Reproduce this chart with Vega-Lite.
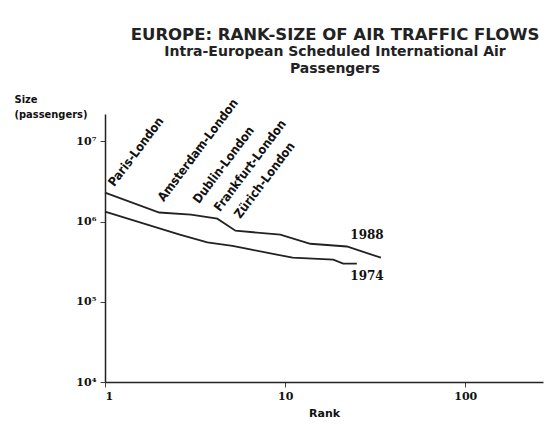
{
  "$schema": "https://vega.github.io/schema/vega-lite/v6.json",
  "width": 438,
  "height": 268,
  "autosize": {"type": "none"},
  "padding": {"left": 105, "top": 114, "right": 1, "bottom": 45},
  "background": "white",
  "title": {
    "text": "EUROPE: RANK-SIZE OF AIR TRAFFIC FLOWS",
    "subtitle": ["Intra-European Scheduled International Air", "Passengers"],
    "anchor": "middle",
    "dx": 11,
    "offset": 17,
    "font": "DejaVu Sans",
    "fontSize": 16.5,
    "fontWeight": "bold",
    "color": "#222",
    "subtitleFont": "DejaVu Sans",
    "subtitleFontSize": 14,
    "subtitleFontWeight": "bold",
    "subtitleColor": "#222",
    "subtitlePadding": 2,
    "subtitleLineHeight": 17
  },
  "config": {"view": {"stroke": null}},
  "datasets": {
    "lines": [
      {"year": "1988", "rank": 1, "size": 2300000},
      {"year": "1988", "rank": 2, "size": 1300000},
      {"year": "1988", "rank": 3, "size": 1220000},
      {"year": "1988", "rank": 4.2, "size": 1090000},
      {"year": "1988", "rank": 5.3, "size": 770000},
      {"year": "1988", "rank": 9.4, "size": 690000},
      {"year": "1988", "rank": 13.8, "size": 530000},
      {"year": "1988", "rank": 22, "size": 490000},
      {"year": "1988", "rank": 34, "size": 355000},
      {"year": "1974", "rank": 1, "size": 1330000},
      {"year": "1974", "rank": 2.6, "size": 690000},
      {"year": "1974", "rank": 3.7, "size": 550000},
      {"year": "1974", "rank": 5.1, "size": 500000},
      {"year": "1974", "rank": 6.4, "size": 450000},
      {"year": "1974", "rank": 11, "size": 355000},
      {"year": "1974", "rank": 18.5, "size": 335000},
      {"year": "1974", "rank": 21, "size": 300000},
      {"year": "1974", "rank": 25, "size": 300000}
    ],
    "routes": [
      {"label": "Paris-London", "rank": 1.1, "size": 2500000},
      {"label": "Amsterdam-London", "rank": 2.07, "size": 1630000},
      {"label": "Dublin-London", "rank": 3.25, "size": 1540000},
      {"label": "Frankfurt-London", "rank": 4.25, "size": 1220000},
      {"label": "Zürich-London", "rank": 5.5, "size": 1000000}
    ],
    "years": [
      {"label": "1988", "rank": 23, "size": 550000},
      {"label": "1974", "rank": 23, "size": 173000}
    ]
  },
  "layer": [
    {
      "data": {"name": "lines"},
      "mark": {"type": "line", "color": "#222", "strokeWidth": 1.8},
      "encoding": {
        "x": {
          "field": "rank", "type": "quantitative",
          "scale": {"type": "log", "domain": [1, 270], "nice": false},
          "axis": {
            "values": [1, 10, 100],
            "grid": false,
            "title": "Rank",
            "titleFont": "DejaVu Sans",
            "titleFontSize": 11,
            "titleFontWeight": "bold",
            "titleColor": "#111",
            "titlePadding": 6,
            "labelFont": "DejaVu Serif",
            "labelFontSize": 11,
            "labelFontWeight": "bold",
            "labelColor": "#111",
            "labelPadding": 3,
            "domainColor": "#222",
            "domainWidth": 1.5,
            "tickColor": "#444",
            "tickSize": 5
          }
        },
        "y": {
          "field": "size", "type": "quantitative",
          "scale": {"type": "log", "domain": [10000, 22000000], "nice": false},
          "axis": {
            "values": [10000, 100000, 1000000, 10000000],
            "labelExpr": "datum.value == 10000 ? '10⁴' : datum.value == 100000 ? '10⁵' : datum.value == 1000000 ? '10⁶' : '10⁷'",
            "grid": false,
            "title": ["Size", "(passengers)"],
            "titleAngle": 0,
            "titleAlign": "left",
            "titleBaseline": "bottom",
            "titleX": -91,
            "titleY": -10,
            "titleFont": "DejaVu Sans Condensed",
            "titleFontSize": 11,
            "titleFontWeight": "bold",
            "titleColor": "#111",
            "titleLineHeight": 15,
            "labelFont": "DejaVu Serif",
            "labelFontSize": 11,
            "labelFontWeight": "bold",
            "labelColor": "#111",
            "labelPadding": 4,
            "domainColor": "#222",
            "domainWidth": 1.5,
            "tickColor": "#444",
            "tickSize": 5
          }
        },
        "detail": {"field": "year"}
      }
    },
    {
      "data": {"name": "routes"},
      "mark": {"type": "text", "angle": -53, "align": "left", "baseline": "bottom", "dx": 3, "dy": 3, "font": "DejaVu Sans Condensed", "fontSize": 12.5, "fontWeight": "bold", "color": "#111"},
      "encoding": {
        "x": {"field": "rank", "type": "quantitative"},
        "y": {"field": "size", "type": "quantitative"},
        "text": {"field": "label"}
      }
    },
    {
      "data": {"name": "years"},
      "mark": {"type": "text", "align": "left", "baseline": "bottom", "font": "DejaVu Serif", "fontSize": 12, "fontWeight": "bold", "color": "#111"},
      "encoding": {
        "x": {"field": "rank", "type": "quantitative"},
        "y": {"field": "size", "type": "quantitative"},
        "text": {"field": "label"}
      }
    }
  ]
}
